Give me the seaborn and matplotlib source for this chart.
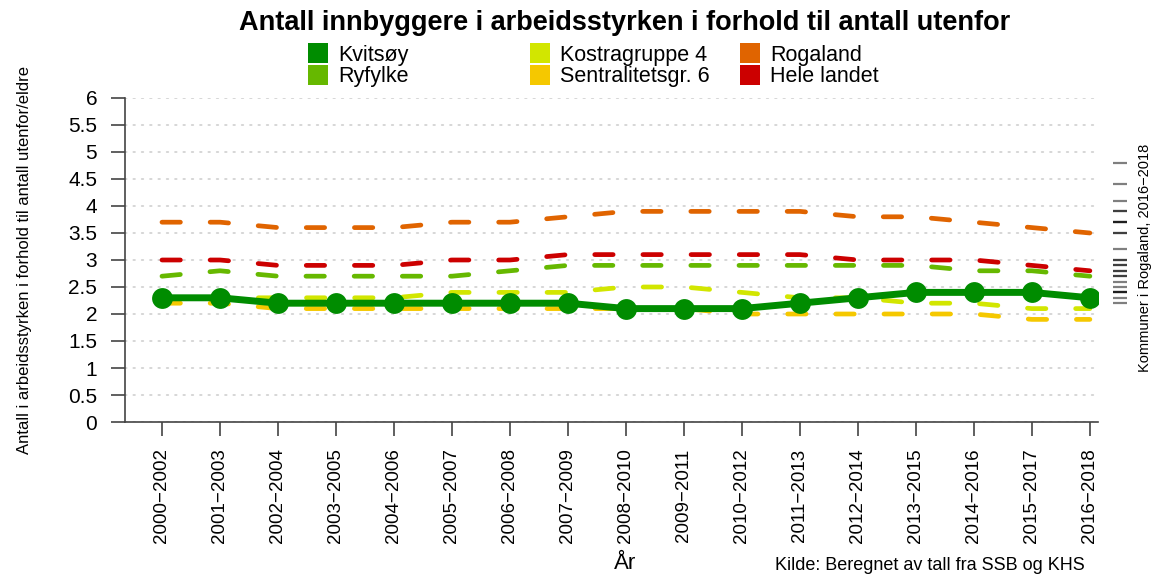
import numpy as np
import pandas as pd
import seaborn as sns
import matplotlib.pyplot as plt
from matplotlib.lines import Line2D

perioder = ['2000−2002', '2001−2003', '2002−2004', '2003−2005', '2004−2006',
            '2005−2007', '2006−2008', '2007−2009', '2008−2010', '2009−2011',
            '2010−2012', '2011−2013', '2012−2014', '2013−2015', '2014−2016',
            '2015−2017', '2016−2018']

kvitsoy = [2.3, 2.3, 2.2, 2.2, 2.2, 2.2, 2.2, 2.2, 2.1, 2.1, 2.1, 2.2, 2.3, 2.4, 2.4, 2.4, 2.3]
ryfylke = [2.7, 2.8, 2.7, 2.7, 2.7, 2.7, 2.8, 2.9, 2.9, 2.9, 2.9, 2.9, 2.9, 2.9, 2.8, 2.8, 2.7]
kostra4 = [2.3, 2.3, 2.3, 2.3, 2.3, 2.4, 2.4, 2.4, 2.5, 2.5, 2.4, 2.3, 2.3, 2.2, 2.2, 2.1, 2.1]
sentral6 = [2.2, 2.2, 2.1, 2.1, 2.1, 2.1, 2.1, 2.1, 2.1, 2.1, 2.0, 2.0, 2.0, 2.0, 2.0, 1.9, 1.9]
rogaland = [3.7, 3.7, 3.6, 3.6, 3.6, 3.7, 3.7, 3.8, 3.9, 3.9, 3.9, 3.9, 3.8, 3.8, 3.7, 3.6, 3.5]
hele_landet = [3.0, 3.0, 2.9, 2.9, 2.9, 3.0, 3.0, 3.1, 3.1, 3.1, 3.1, 3.1, 3.0, 3.0, 3.0, 2.9, 2.8]

# kommunene i Rogaland, siste periode (strekene til hoyre)
kommuner_2016_2018 = [4.8, 4.4, 4.1, 3.9, 3.9, 3.7, 3.7, 3.7, 3.5, 3.5, 3.2, 3.0, 3.0,
                      2.9, 2.9, 2.8, 2.8, 2.7, 2.7, 2.6, 2.5, 2.4, 2.4, 2.4, 2.3, 2.2]

serier = {'Kvitsøy': kvitsoy, 'Ryfylke': ryfylke, 'Kostragruppe 4': kostra4,
          'Sentralitetsgr. 6': sentral6, 'Rogaland': rogaland, 'Hele landet': hele_landet}
farger = {'Kvitsøy': '#008c00', 'Ryfylke': '#66b800', 'Kostragruppe 4': '#d2e600',
          'Sentralitetsgr. 6': '#f5c800', 'Rogaland': '#e06400', 'Hele landet': '#cc0000'}

df = pd.DataFrame([(i, navn, v) for navn, verdier in serier.items() for i, v in enumerate(verdier)],
                  columns=['pos', 'region', 'verdi'])

sns.set_theme(style='white')
plt.rcParams['font.family'] = ['Liberation Sans', 'DejaVu Sans']
plt.rcParams['lines.dash_capstyle'] = 'round'
plt.rcParams['lines.solid_capstyle'] = 'round'
plt.rcParams['text.color'] = 'black'
plt.rcParams['axes.labelcolor'] = 'black'

fig = plt.figure(figsize=(11.53, 5.74), dpi=100)
ax = fig.add_axes([0.1084, 0.2648, 0.8439, 0.5645])

stiplet = ['Hele landet', 'Rogaland', 'Sentralitetsgr. 6', 'Kostragruppe 4', 'Ryfylke']
sns.lineplot(data=df[df['region'].isin(stiplet)], x='pos', y='verdi', hue='region',
             hue_order=stiplet, palette=farger, style='region', style_order=stiplet,
             dashes={n: (3.9, 6.3) for n in stiplet}, linewidth=3.4, legend=False, ax=ax)
sns.lineplot(data=df[df['region'] == 'Kvitsøy'], x='pos', y='verdi', color=farger['Kvitsøy'],
             linewidth=5, marker='o', markersize=15, markeredgewidth=0, legend=False, ax=ax)

ax.scatter(np.full(len(kommuner_2016_2018), 16.52), kommuner_2016_2018, marker='_', s=110,
           linewidths=1.6, color='black', alpha=0.5, clip_on=False)

ax.set_xlim(-0.638, 16.14)
ax.set_ylim(0, 6)
ax.set_xticks(range(len(perioder)), perioder, rotation=90, fontsize=13.5)
yt = np.arange(0, 6.01, 0.5)
ax.set_yticks(yt, [f'{v:g}' for v in yt], fontsize=15)
ax.tick_params(axis='both', direction='out', length=10, width=1.2, color='#444444',
               labelcolor='black', bottom=True, left=True)
ax.tick_params(axis='y', pad=10)
ax.tick_params(axis='x', pad=9)
for s in ['top', 'right']:
    ax.spines[s].set_visible(False)
for s in ['left', 'bottom']:
    ax.spines[s].set_color('#444444')
    ax.spines[s].set_linewidth(1.2)
ax.grid(axis='y', color='#d0d0d0', linestyle=(0, (1, 4)), linewidth=1.2)
ax.set_axisbelow(True)

ax.set_ylabel('Antall i arbeidsstyrken i forhold til antall utenfor/eldre', fontsize=12)
ax.yaxis.set_label_coords(-0.096, 0.5)
ax.set_xlabel('År', fontsize=16)
ax.xaxis.set_label_coords(0.514, -0.404)

fig.text(0.542, 0.960, 'Antall innbyggere i arbeidsstyrken i forhold til antall utenfor',
         ha='center', va='center', fontsize=19.5, fontweight='bold')
fig.text(0.672, 1 - 566 / 574, 'Kilde: Beregnet av tall fra SSB og KHS', ha='left', va='center',
         fontsize=13)
fig.text(1145 / 1153, 1 - 258 / 574, 'Kommuner i Rogaland, 2016−2018', rotation=90,
         ha='center', va='center', fontsize=10.5)

kolonner = [['Kvitsøy', 'Ryfylke'], ['Kostragruppe 4', 'Sentralitetsgr. 6'], ['Rogaland', 'Hele landet']]
venstre = [308, 530, 740]
for navn, x0 in zip(kolonner, venstre):
    handles = [Line2D([], [], linestyle='none', marker='s', markersize=15,
                      markerfacecolor=farger[n], markeredgewidth=0) for n in navn]
    fig.legend(handles, navn, loc='center left', bbox_to_anchor=(x0 / 1153, 1 - 66 / 574),
               frameon=False, fontsize=15.5, handlelength=0.95, handletextpad=0.45,
               labelspacing=0.02, borderpad=0, borderaxespad=0)

fig.savefig('out.png', dpi=100)
